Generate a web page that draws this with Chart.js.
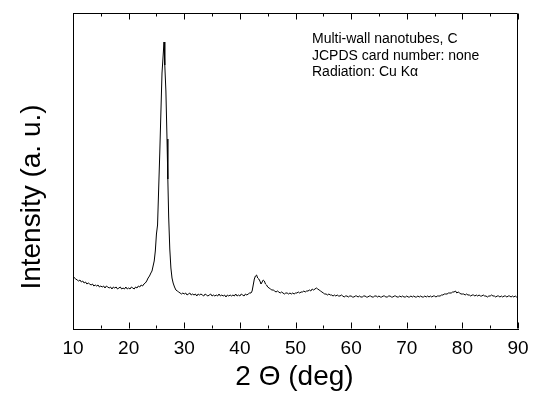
<!DOCTYPE html>
<html>
<head>
<meta charset="utf-8">
<script src="https://cdn.jsdelivr.net/npm/chart.js@4"></script>
<style>
  html, body { margin: 0; padding: 0; background: #fff; }
  canvas { display: block; }
</style>
</head>
<body>
<canvas id="c" width="546" height="398"></canvas>
<script>
// ---- data ----
const twoTheta = [
  10.00,10.25,10.50,10.75,11.00,11.25,11.50,11.75,12.00,12.25,12.50,12.75,13.00,13.25,13.50,13.75,
  14.00,14.25,14.50,14.75,15.00,15.25,15.50,15.75,16.00,16.25,16.50,16.75,17.00,17.25,17.50,17.75,
  18.00,18.25,18.50,18.75,19.00,19.25,19.50,19.75,20.00,20.25,20.50,20.75,21.00,21.25,21.50,21.75,
  22.00,22.25,22.50,22.75,23.00,23.25,23.50,23.75,24.00,24.20,24.40,24.60,24.80,25.00,25.20,25.40,
  25.60,25.80,26.00,26.20,26.36,26.50,26.70,26.90,27.05,27.20,27.40,27.60,27.80,28.00,28.25,28.50,
  28.75,29.00,29.25,29.50,29.75,30.00,30.25,30.50,30.75,31.00,31.25,31.50,31.75,32.00,32.25,32.50,
  32.75,33.00,33.25,33.50,33.75,34.00,34.25,34.50,34.75,35.00,35.25,35.50,35.75,36.00,36.25,36.50,
  36.75,37.00,37.25,37.50,37.75,38.00,38.25,38.50,38.75,39.00,39.25,39.50,39.75,40.00,40.25,40.50,
  40.75,41.00,41.25,41.50,41.75,42.00,42.20,42.40,42.60,42.80,43.00,43.20,43.40,43.60,43.80,44.00,
  44.20,44.40,44.60,44.80,45.00,45.25,45.50,45.75,46.00,46.25,46.50,46.75,47.00,47.25,47.50,47.75,
  48.00,48.25,48.50,48.75,49.00,49.25,49.50,49.75,50.00,50.25,50.50,50.75,51.00,51.25,51.50,51.75,
  52.00,52.25,52.50,52.75,53.00,53.25,53.50,53.75,54.00,54.25,54.50,54.75,55.00,55.25,55.50,55.75,
  56.00,56.25,56.50,56.75,57.00,57.25,57.50,57.75,58.00,58.25,58.50,58.75,59.00,59.25,59.50,59.75,
  60.00,60.25,60.50,60.75,61.00,61.25,61.50,61.75,62.00,62.25,62.50,62.75,63.00,63.25,63.50,63.75,
  64.00,64.25,64.50,64.75,65.00,65.25,65.50,65.75,66.00,66.25,66.50,66.75,67.00,67.25,67.50,67.75,
  68.00,68.25,68.50,68.75,69.00,69.25,69.50,69.75,70.00,70.25,70.50,70.75,71.00,71.25,71.50,71.75,
  72.00,72.25,72.50,72.75,73.00,73.25,73.50,73.75,74.00,74.25,74.50,74.75,75.00,75.25,75.50,75.75,
  76.00,76.25,76.50,76.75,77.00,77.25,77.50,77.75,78.00,78.25,78.50,78.75,79.00,79.25,79.50,79.75,
  80.00,80.25,80.50,80.75,81.00,81.25,81.50,81.75,82.00,82.25,82.50,82.75,83.00,83.25,83.50,83.75,
  84.00,84.25,84.50,84.75,85.00,85.25,85.50,85.75,86.00,86.25,86.50,86.75,87.00,87.25,87.50,87.75,
  88.00,88.25,88.50,88.75,89.00,89.25,89.50,89.75,90.00
];
const intensity = [
  53,51,50,49,48,49,47,48,46,47,45,46,45,44,45,43,
  44,43,44,42,43,42,43,41,43,42,41,42,40,42,41,42,
  40,41,42,40,41,40,42,40,41,40,42,41,40,42,41,43,
  42,44,43,45,46,48,51,53,56,58,63,68,78,95,104,140,
  176,216,256,273,287,264,238,190,150,112,80,61,51,46,42,39,
  38,37,36,35,36,35,36,34,35,36,34,35,34,35,33,35,
  34,35,34,33,35,34,33,34,35,33,34,33,34,33,35,33,
  34,33,34,32,34,33,34,33,34,33,35,33,34,33,35,34,
  33,35,34,35,36,36,38,44,50,53,54,51,50,48,45,47,
  49,48,45,44,42,41,40,39,39,38,37,38,37,36,37,36,
  35,36,36,35,36,35,36,35,36,36,37,36,37,37,38,37,
  38,38,39,38,40,39,40,41,40,39,38,37,36,35,35,34,
  35,34,34,33,34,33,34,33,33,34,33,32,33,33,32,33,
  33,32,32,33,33,32,33,32,32,33,33,32,32,33,33,32,
  32,33,33,32,33,32,32,33,33,32,32,33,33,32,32,33,
  33,32,32,33,32,33,32,32,33,32,32,33,32,33,32,32,
  33,32,33,32,32,33,32,33,32,33,32,33,33,32,33,33,
  33,34,34,35,35,35,36,36,36,37,37,38,36,37,36,35,
  35,35,34,35,34,34,33,34,34,33,34,33,34,33,33,34,
  33,33,32,33,33,34,33,33,32,33,33,32,33,32,33,33,
  32,33,33,32,33,32,33,32,33
];
const xMin = 10, xMax = 90;
const yMin = 0, yMax = 316;
const majorTicks = [10, 20, 30, 40, 50, 60, 70, 80, 90];
const minorTicks = [15, 25, 35, 45, 55, 65, 75, 85];
const noteLines = ['Multi-wall nanotubes, C', 'JCPDS card number: none', 'Radiation: Cu K\u03B1'];
const xTitle = '2 \u0398 (deg)';
const yTitle = 'Intensity (a. u.)';

const FONT = 'Arial, "Liberation Sans", Helvetica, sans-serif';

const points = twoTheta.map((t, i) => ({ x: t, y: intensity[i] }));

const framePlugin = {
  id: 'frame',
  afterDraw(chart) {
    const { ctx, chartArea: a, scales } = chart;
    const xs = scales.x;
    ctx.save();
    ctx.strokeStyle = '#000';
    ctx.lineWidth = 1;
    const L = Math.round(a.left) + 0.5, R = Math.round(a.right) - 0.5;
    const T = Math.round(a.top) + 0.5, B = Math.round(a.bottom) - 0.5;
    ctx.beginPath();
    ctx.moveTo(L, T); ctx.lineTo(R, T); ctx.lineTo(R, B);
    ctx.stroke();
    // inward tick marks on bottom and top
    const drawTicks = (vals, len) => {
      vals.forEach(v => {
        const px = Math.round(xs.getPixelForValue(v)) + 0.5;
        ctx.beginPath();
        ctx.moveTo(px, B); ctx.lineTo(px, B - len);
        ctx.moveTo(px, T); ctx.lineTo(px, T + len);
        ctx.stroke();
      });
    };
    drawTicks(majorTicks, 6);
    drawTicks(minorTicks, 3);

    // annotation text
    ctx.fillStyle = '#000';
    ctx.font = '14px ' + FONT;
    ctx.textAlign = 'left';
    ctx.textBaseline = 'alphabetic';
    noteLines.forEach((s, i) => ctx.fillText(s, 312, 43 + i * 16.5));

    // axis titles
    ctx.font = '28px ' + FONT;
    ctx.textAlign = 'center';
    ctx.fillText(xTitle, (a.left + a.right) / 2 - 1, 385);
    ctx.save();
    ctx.translate(40, 197);
    ctx.rotate(-Math.PI / 2);
    ctx.fillText(yTitle, 0, 0);
    ctx.restore();
    ctx.restore();
  }
};

new Chart(document.getElementById('c'), {
  type: 'line',
  data: {
    datasets: [{
      data: points,
      borderColor: '#000',
      borderWidth: 1,
      pointRadius: 0,
      tension: 0,
      fill: false
    }]
  },
  options: {
    responsive: false,
    animation: false,
    layout: { padding: { left: 73, right: 28, top: 13, bottom: 0 } },
    plugins: { legend: { display: false }, tooltip: { enabled: false } },
    scales: {
      x: {
        type: 'linear',
        min: xMin, max: xMax,
        afterFit(s) { s.height = 69; },
        grid: { display: false },
        border: { display: true, color: '#000', width: 1 },
        ticks: {
          stepSize: 10,
          color: '#000',
          padding: 0,
          maxRotation: 0,
          font: { family: FONT, size: 19 }
        }
      },
      y: {
        type: 'linear',
        min: yMin, max: yMax,
        afterFit(s) { s.width = 0; },
        grid: { display: false },
        border: { display: true, color: '#000', width: 1 },
        ticks: { display: false }
      }
    }
  },
  plugins: [framePlugin]
});
</script>
</body>
</html>
